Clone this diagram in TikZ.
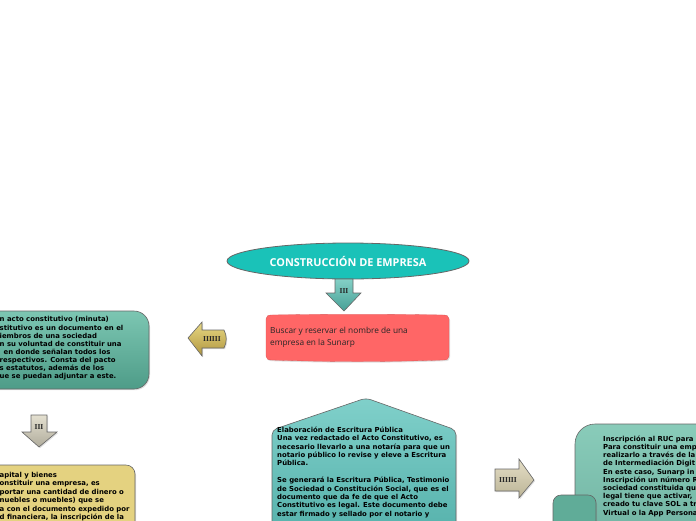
\documentclass[tikz,border=0pt]{standalone}
\usepackage{fontspec}
\newfontfamily\osans{Open Sans}
\newfontfamily\dvs{DejaVu Sans}
\newfontfamily\lserif{Liberation Serif}
\usetikzlibrary{shapes.geometric,shadows}
\definecolor{titleteal}{RGB}{26,194,184}
\definecolor{arrT1}{RGB}{132,208,198}
\definecolor{arrT2}{RGB}{72,160,150}
\definecolor{redbox}{RGB}{255,102,102}
\definecolor{gold1}{RGB}{232,216,132}
\definecolor{gold2}{RGB}{176,150,62}
\definecolor{teal1}{RGB}{124,198,178}
\definecolor{teal2}{RGB}{78,156,136}
\definecolor{gray1}{RGB}{228,224,208}
\definecolor{gray2}{RGB}{176,172,156}
\definecolor{tan1}{RGB}{228,210,128}
\definecolor{tan2}{RGB}{210,188,98}
\definecolor{pent1}{RGB}{128,208,202}
\definecolor{pent2}{RGB}{78,172,166}
\definecolor{beige1}{RGB}{228,222,198}
\definecolor{beige2}{RGB}{188,180,150}
\definecolor{blockteal}{RGB}{96,172,152}
\begin{document}
\begin{tikzpicture}[x=1pt,y=-1pt,
  outl/.style={draw=black!60, line width=0.6pt},
  shad/.style={drop shadow={opacity=0.25,shadow xshift=1pt,shadow yshift=-1.2pt}},
  bodytext/.style={font=\dvs\bfseries\fontsize{6.9}{8.4}\selectfont, align=left, inner sep=0, anchor=north west, text=black},
  tagtext/.style={font=\lserif\bfseries\fontsize{7.6}{7.6}\selectfont, inner sep=0, text=black!85}
]
\useasboundingbox (0,0) rectangle (696,520);

% title ellipse
\node[ellipse, minimum width=242pt, minimum height=36pt, fill=titleteal, outl, line width=0.8pt, inner sep=0,
  font=\osans\bfseries\fontsize{10.9}{12}\selectfont, text=white] (title) at (348,261) {CONSTRUCCIÓN DE EMPRESA};

% down arrow under title
\path[outl, top color=arrT1, bottom color=arrT2] (335,279) -- (353,279) -- (353,293) -- (361,293) -- (344,311) -- (326,293) -- (335,293) -- cycle;
\node[tagtext] (tagA) at (344,291.5) {III};

% red box
\path[fill=redbox, draw=redbox!85!black, line width=0.3pt, shad] (266,319) .. controls (266,316) and (268,315) .. (272,315) .. controls (330,314) and (385,314) .. (443,315) .. controls (447,315) and (449,316) .. (449,319) -- (449,356) .. controls (449,359) and (447,360) .. (443,360) .. controls (385,362) and (330,362) .. (272,360) .. controls (268,360) and (266,359) .. (266,356) -- cycle;
\node[font=\osans\fontsize{8.3}{12}\selectfont, align=left, inner sep=0, anchor=north west, text=black!85] (red) at (270,327) {Buscar y reservar el nombre de una\\empresa en la Sunarp};

% gold left arrow
\path[outl, top color=gold1, bottom color=gold2, shad] (188,338) -- (202,322) -- (202,330) -- (224,330) .. controls (227,336) and (227,342) .. (224,348) -- (202,348) -- (202,356) -- cycle;
\node[tagtext] (tagB) at (212,339.5) {IIIIII};

% left teal box
\path[outl, top color=teal1, bottom color=teal2, rounded corners=15pt, shad] (-30,311) rectangle (149,389);
\node[bodytext, font=\dvs\bfseries\fontsize{6.9}{8.1}\selectfont] (leftbox) at (-0.5,316.5) {n acto constitutivo (minuta)\\stitutivo es un documento en el\\iembros de una sociedad\\n su voluntad de constituir una\\\hspace*{4pt}en donde señalan todos los\\respectivos. Consta del pacto\\s estatutos, además de los\\ue se puedan adjuntar a este.};

% gray down arrow
\path[outl, top color=gray1, bottom color=gray2, shad] (31,415) -- (47,415) -- (47,432) -- (57,432) -- (39,447) -- (22,432) -- (31,432) -- cycle;
\node[tagtext] (tagC) at (39,427) {III};

% tan box
\path[outl, fill=tan1, rounded corners=9pt, shad] (-30,465) rectangle (135,560);
\node[bodytext] (tanbox) at (-0.5,472) {apital y bienes\\onstituir una empresa, es\\portar una cantidad de dinero o\\nuebles o muebles) que se\\a con el documento expedido por\\d financiera, la inscripción de la};

% pentagon
\path[outl, top color=pent1, bottom color=pent2, rounded corners=5pt, shad] (272,560) -- (272,430) -- (366,398) -- (456,430) -- (456,560);
\node[bodytext] (pent) at (277,426.5) {Elaboración de Escritura Pública\\Una vez redactado el Acto Constitutivo, es\\necesario llevarlo a una notaría para que un\\notario público lo revise y eleve a Escritura\\Pública.\\[8.4pt]Se generará la Escritura Pública, Testimonio\\de Sociedad o Constitución Social, que es el\\documento que da fe de que el Acto\\Constitutivo es legal. Este documento debe\\estar firmado y sellado por el notario y};

% beige right arrow
\path[outl, top color=beige1, bottom color=beige2, shad] (495,469) -- (519,469) -- (519,459) -- (534,480) -- (519,498) -- (519,491) -- (495,491) -- cycle;
\node[tagtext] (tagD) at (508,480.5) {IIIIII};

% right box
\path[outl, top color=teal1!90!white, bottom color=teal2!85!white, rounded corners=20pt, shad] (575,424) rectangle (740,580);
\node[bodytext, font=\dvs\bfseries\fontsize{6.9}{8.2}\selectfont] (rightbox) at (603,435.5) {Inscripción al RUC para\\Para constituir una emp\\realizarlo a través de la\\de Intermediación Digit\\En este caso, Sunarp in\\Inscripción un número R\\sociedad constituida qu\\legal tiene que activar,\\creado tu clave SOL a tr\\Virtual o la App Persona};

% small rounded block
\path[outl, fill=blockteal, rounded corners=8pt, shad] (553,495) rectangle (596,560);
\end{tikzpicture}
\end{document}
